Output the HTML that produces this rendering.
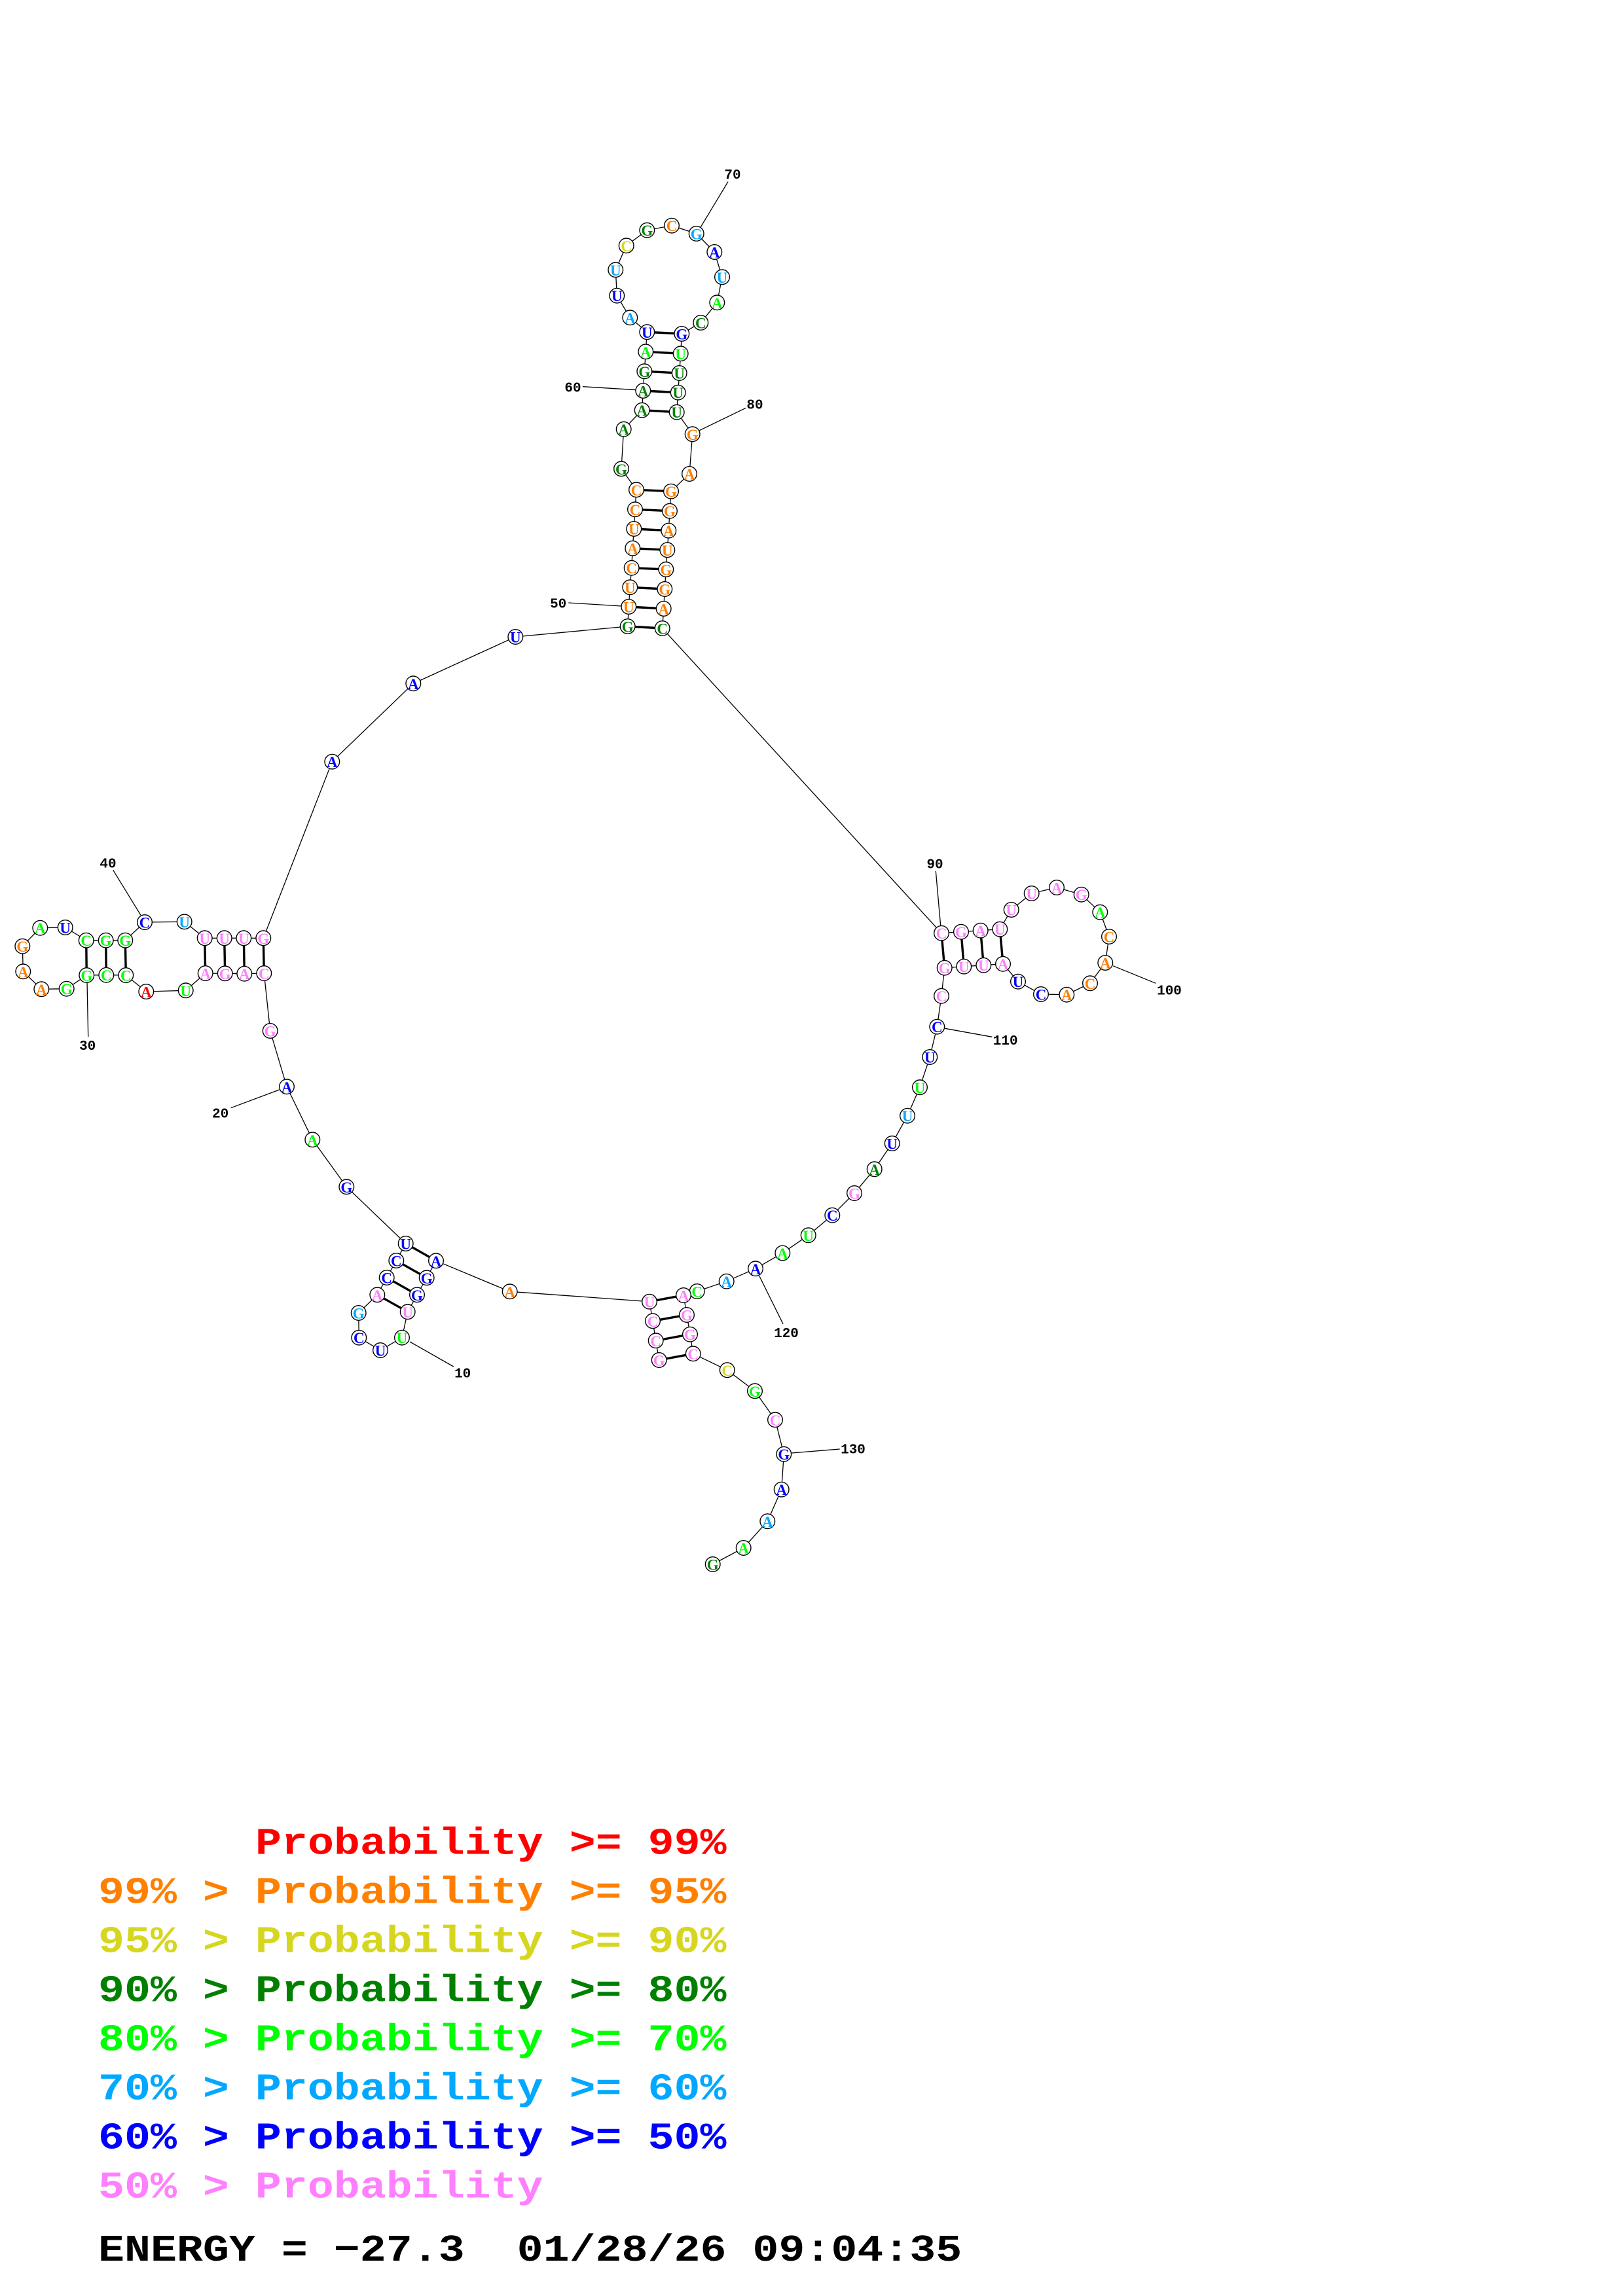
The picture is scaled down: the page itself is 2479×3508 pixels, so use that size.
<!DOCTYPE html>
<html lang="en">
<head>
<meta charset="utf-8">
<title>RNA secondary structure</title>
<style>
html,body{margin:0;padding:0;background:#fff}
svg{display:block}
circle{fill:#fff;stroke:#000;stroke-width:1.4}
.n text{font-family:"Liberation Serif",serif;font-weight:bold;font-size:23px;text-anchor:middle}
.r{fill:#ff0000}.o{fill:#ff8000}.y{fill:#d6d620}.d{fill:#008000}.g{fill:#00ff00}.s{fill:#00a8ff}.b{fill:#0000ff}.p{fill:#ff80ff}
.l text{font-family:"Liberation Mono",monospace;font-weight:bold;font-size:21px;text-anchor:middle;fill:#000}
.t text{font-family:"Liberation Mono",monospace;font-weight:bold;font-size:57.2px;white-space:pre}
</style>
</head>
<body>
<svg xmlns="http://www.w3.org/2000/svg" width="2479" height="3508" viewBox="0 0 2479 3508">
<rect width="2479" height="3508" fill="#fff"/>
<polyline fill="none" stroke="#000" stroke-width="1.3" points="1006.7,2078 1001.7,2048.3 997,2018.3 992,1988.7 778.7,1973.3 666,1926.3 651.7,1952.3 637,1978.3 622.7,2004.3 614,2043.7 581,2063 548.3,2043.7 547.7,2006 576.3,1978.3 590.7,1952 605.3,1926 619.7,1900 529.3,1813.3 477.3,1741.3 438,1660.3 412.7,1575 403.3,1487 373.3,1487.7 343.7,1487.3 313.7,1487 283.7,1513.3 223.3,1515 192.3,1490 162.3,1489.7 132.3,1490 101.7,1510.7 63.3,1511.3 35.3,1484.3 34.3,1445.7 61.3,1417.7 99.7,1417 131.7,1436.7 161.7,1436.7 191.3,1436.7 221,1409 281.7,1408.3 312.7,1433.3 342.7,1433.3 372.3,1433.3 402.3,1433.3 507.3,1163.7 631.3,1044.3 787.3,973 958.7,957 960.3,927 962.3,897.3 964.7,867.7 966.3,837.7 968.3,808 970,778.3 972,748.3 949,716.3 952.7,655.7 980.7,626.7 982.3,597 984.3,567.3 986.3,537.3 988.3,507.3 962.3,485.3 942.3,451.7 940.3,412.3 956.7,375.3 988.3,351.7 1026,344.7 1063.7,357 1091.3,385 1103,423.3 1095.3,462.3 1070.3,493 1041.3,510 1039.7,540.3 1037.7,570 1035.7,599.7 1033.7,629.7 1057.7,663.3 1053,724 1025,750.7 1023,780.7 1021.3,810.7 1019.3,840.3 1017.3,870 1015.3,900 1013.7,930 1011.7,960 1438,1425.7 1468,1423.7 1497.7,1421.7 1527.3,1419.7 1544.7,1390 1575.7,1365 1614,1356 1651.7,1366.7 1680.3,1393.7 1694,1431 1688.3,1471 1665,1502.3 1629.3,1519.7 1590,1519 1555,1499.7 1532,1472.7 1502.3,1474.7 1472.3,1476.7 1442.7,1478.7 1438,1521.7 1431.3,1568.7 1420.3,1615 1405,1661.3 1386,1704.7 1362.7,1747 1335.7,1786.3 1305,1823 1271.3,1856.7 1234.7,1887.3 1195.3,1914.5 1154,1938.3 1109.7,1957.7 1064.7,1973 1044,1979 1049,2009 1054,2038.7 1058.7,2068.3 1110.7,2093.3 1153,2125.3 1184,2169.3 1197.3,2221.7 1193.7,2275.7 1172.3,2324.3 1135.7,2365 1088.7,2390"/>
<g stroke="#000" stroke-width="3.4">
<line x1="1006.7" y1="2078" x2="1058.7" y2="2068.3"/><line x1="1001.7" y1="2048.3" x2="1054" y2="2038.7"/><line x1="997" y1="2018.3" x2="1049" y2="2009"/><line x1="992" y1="1988.7" x2="1044" y2="1979"/>
<line x1="666" y1="1926.3" x2="619.7" y2="1900"/><line x1="651.7" y1="1952.3" x2="605.3" y2="1926"/><line x1="637" y1="1978.3" x2="590.7" y2="1952"/><line x1="622.7" y1="2004.3" x2="576.3" y2="1978.3"/>
<line x1="403.3" y1="1487" x2="402.3" y2="1433.3"/><line x1="373.3" y1="1487.7" x2="372.3" y2="1433.3"/><line x1="343.7" y1="1487.3" x2="342.7" y2="1433.3"/><line x1="313.7" y1="1487" x2="312.7" y2="1433.3"/>
<line x1="192.3" y1="1490" x2="191.3" y2="1436.7"/><line x1="162.3" y1="1489.7" x2="161.7" y2="1436.7"/><line x1="132.3" y1="1490" x2="131.7" y2="1436.7"/>
<line x1="958.7" y1="957" x2="1011.7" y2="960"/><line x1="960.3" y1="927" x2="1013.7" y2="930"/><line x1="962.3" y1="897.3" x2="1015.3" y2="900"/><line x1="964.7" y1="867.7" x2="1017.3" y2="870"/><line x1="966.3" y1="837.7" x2="1019.3" y2="840.3"/><line x1="968.3" y1="808" x2="1021.3" y2="810.7"/><line x1="970" y1="778.3" x2="1023" y2="780.7"/><line x1="972" y1="748.3" x2="1025" y2="750.7"/>
<line x1="980.7" y1="626.7" x2="1033.7" y2="629.7"/><line x1="982.3" y1="597" x2="1035.7" y2="599.7"/><line x1="984.3" y1="567.3" x2="1037.7" y2="570"/><line x1="986.3" y1="537.3" x2="1039.7" y2="540.3"/><line x1="988.3" y1="507.3" x2="1041.3" y2="510"/>
<line x1="1438" y1="1425.7" x2="1442.7" y2="1478.7"/><line x1="1468" y1="1423.7" x2="1472.3" y2="1476.7"/><line x1="1497.7" y1="1421.7" x2="1502.3" y2="1474.7"/><line x1="1527.3" y1="1419.7" x2="1532" y2="1472.7"/>
</g>
<g stroke="#000" stroke-width="1.3">
<line x1="626" y1="2050" x2="692.7" y2="2088"/>
<line x1="352.7" y1="1692.7" x2="426.7" y2="1665"/>
<line x1="133" y1="1500" x2="134.7" y2="1584"/>
<line x1="172.7" y1="1329.3" x2="215" y2="1398.3"/>
<line x1="868.3" y1="921" x2="949" y2="926"/>
<line x1="890" y1="590.7" x2="971.7" y2="595.7"/>
<line x1="1112" y1="277.7" x2="1070" y2="347.3"/>
<line x1="1139.3" y1="623.3" x2="1068.3" y2="657.7"/>
<line x1="1429.3" y1="1330.7" x2="1436.7" y2="1414"/>
<line x1="1700" y1="1475.7" x2="1765.3" y2="1502.3"/>
<line x1="1443.3" y1="1571.3" x2="1515.3" y2="1584.3"/>
<line x1="1160" y1="1950" x2="1196" y2="2022.7"/>
<line x1="1209.3" y1="2220" x2="1282.7" y2="2214"/>
</g>
<g class="n">
<circle cx="1006.7" cy="2078" r="11.3"/><text class="p" x="1006.7" y="2086.5">G</text>
<circle cx="1001.7" cy="2048.3" r="11.3"/><text class="p" x="1001.7" y="2056.8">C</text>
<circle cx="997" cy="2018.3" r="11.3"/><text class="p" x="997" y="2026.8">C</text>
<circle cx="992" cy="1988.7" r="11.3"/><text class="p" x="992" y="1997.2">U</text>
<circle cx="778.7" cy="1973.3" r="11.3"/><text class="o" x="778.7" y="1981.8">A</text>
<circle cx="666" cy="1926.3" r="11.3"/><text class="b" x="666" y="1934.8">A</text>
<circle cx="651.7" cy="1952.3" r="11.3"/><text class="b" x="651.7" y="1960.8">G</text>
<circle cx="637" cy="1978.3" r="11.3"/><text class="b" x="637" y="1986.8">G</text>
<circle cx="622.7" cy="2004.3" r="11.3"/><text class="p" x="622.7" y="2012.8">U</text>
<circle cx="614" cy="2043.7" r="11.3"/><text class="g" x="614" y="2052.2">U</text>
<circle cx="581" cy="2063" r="11.3"/><text class="b" x="581" y="2071.5">U</text>
<circle cx="548.3" cy="2043.7" r="11.3"/><text class="b" x="548.3" y="2052.2">C</text>
<circle cx="547.7" cy="2006" r="11.3"/><text class="s" x="547.7" y="2014.5">G</text>
<circle cx="576.3" cy="1978.3" r="11.3"/><text class="p" x="576.3" y="1986.8">A</text>
<circle cx="590.7" cy="1952" r="11.3"/><text class="b" x="590.7" y="1960.5">C</text>
<circle cx="605.3" cy="1926" r="11.3"/><text class="b" x="605.3" y="1934.5">C</text>
<circle cx="619.7" cy="1900" r="11.3"/><text class="b" x="619.7" y="1908.5">U</text>
<circle cx="529.3" cy="1813.3" r="11.3"/><text class="b" x="529.3" y="1821.8">G</text>
<circle cx="477.3" cy="1741.3" r="11.3"/><text class="g" x="477.3" y="1749.8">A</text>
<circle cx="438" cy="1660.3" r="11.3"/><text class="b" x="438" y="1668.8">A</text>
<circle cx="412.7" cy="1575" r="11.3"/><text class="p" x="412.7" y="1583.5">G</text>
<circle cx="403.3" cy="1487" r="11.3"/><text class="p" x="403.3" y="1495.5">C</text>
<circle cx="373.3" cy="1487.7" r="11.3"/><text class="p" x="373.3" y="1496.2">A</text>
<circle cx="343.7" cy="1487.3" r="11.3"/><text class="p" x="343.7" y="1495.8">G</text>
<circle cx="313.7" cy="1487" r="11.3"/><text class="p" x="313.7" y="1495.5">A</text>
<circle cx="283.7" cy="1513.3" r="11.3"/><text class="g" x="283.7" y="1521.8">U</text>
<circle cx="223.3" cy="1515" r="11.3"/><text class="r" x="223.3" y="1523.5">A</text>
<circle cx="192.3" cy="1490" r="11.3"/><text class="g" x="192.3" y="1498.5">C</text>
<circle cx="162.3" cy="1489.7" r="11.3"/><text class="g" x="162.3" y="1498.2">C</text>
<circle cx="132.3" cy="1490" r="11.3"/><text class="g" x="132.3" y="1498.5">G</text>
<circle cx="101.7" cy="1510.7" r="11.3"/><text class="g" x="101.7" y="1519.2">G</text>
<circle cx="63.3" cy="1511.3" r="11.3"/><text class="o" x="63.3" y="1519.8">A</text>
<circle cx="35.3" cy="1484.3" r="11.3"/><text class="o" x="35.3" y="1492.8">A</text>
<circle cx="34.3" cy="1445.7" r="11.3"/><text class="o" x="34.3" y="1454.2">G</text>
<circle cx="61.3" cy="1417.7" r="11.3"/><text class="g" x="61.3" y="1426.2">A</text>
<circle cx="99.7" cy="1417" r="11.3"/><text class="b" x="99.7" y="1425.5">U</text>
<circle cx="131.7" cy="1436.7" r="11.3"/><text class="g" x="131.7" y="1445.2">C</text>
<circle cx="161.7" cy="1436.7" r="11.3"/><text class="g" x="161.7" y="1445.2">G</text>
<circle cx="191.3" cy="1436.7" r="11.3"/><text class="g" x="191.3" y="1445.2">G</text>
<circle cx="221" cy="1409" r="11.3"/><text class="b" x="221" y="1417.5">C</text>
<circle cx="281.7" cy="1408.3" r="11.3"/><text class="s" x="281.7" y="1416.8">U</text>
<circle cx="312.7" cy="1433.3" r="11.3"/><text class="p" x="312.7" y="1441.8">U</text>
<circle cx="342.7" cy="1433.3" r="11.3"/><text class="p" x="342.7" y="1441.8">U</text>
<circle cx="372.3" cy="1433.3" r="11.3"/><text class="p" x="372.3" y="1441.8">U</text>
<circle cx="402.3" cy="1433.3" r="11.3"/><text class="p" x="402.3" y="1441.8">G</text>
<circle cx="507.3" cy="1163.7" r="11.3"/><text class="b" x="507.3" y="1172.2">A</text>
<circle cx="631.3" cy="1044.3" r="11.3"/><text class="b" x="631.3" y="1052.8">A</text>
<circle cx="787.3" cy="973" r="11.3"/><text class="b" x="787.3" y="981.5">U</text>
<circle cx="958.7" cy="957" r="11.3"/><text class="d" x="958.7" y="965.5">G</text>
<circle cx="960.3" cy="927" r="11.3"/><text class="o" x="960.3" y="935.5">U</text>
<circle cx="962.3" cy="897.3" r="11.3"/><text class="o" x="962.3" y="905.8">U</text>
<circle cx="964.7" cy="867.7" r="11.3"/><text class="o" x="964.7" y="876.2">C</text>
<circle cx="966.3" cy="837.7" r="11.3"/><text class="o" x="966.3" y="846.2">A</text>
<circle cx="968.3" cy="808" r="11.3"/><text class="o" x="968.3" y="816.5">U</text>
<circle cx="970" cy="778.3" r="11.3"/><text class="o" x="970" y="786.8">C</text>
<circle cx="972" cy="748.3" r="11.3"/><text class="o" x="972" y="756.8">C</text>
<circle cx="949" cy="716.3" r="11.3"/><text class="d" x="949" y="724.8">G</text>
<circle cx="952.7" cy="655.7" r="11.3"/><text class="d" x="952.7" y="664.2">A</text>
<circle cx="980.7" cy="626.7" r="11.3"/><text class="d" x="980.7" y="635.2">A</text>
<circle cx="982.3" cy="597" r="11.3"/><text class="d" x="982.3" y="605.5">A</text>
<circle cx="984.3" cy="567.3" r="11.3"/><text class="d" x="984.3" y="575.8">G</text>
<circle cx="986.3" cy="537.3" r="11.3"/><text class="g" x="986.3" y="545.8">A</text>
<circle cx="988.3" cy="507.3" r="11.3"/><text class="b" x="988.3" y="515.8">U</text>
<circle cx="962.3" cy="485.3" r="11.3"/><text class="s" x="962.3" y="493.8">A</text>
<circle cx="942.3" cy="451.7" r="11.3"/><text class="b" x="942.3" y="460.2">U</text>
<circle cx="940.3" cy="412.3" r="11.3"/><text class="s" x="940.3" y="420.8">U</text>
<circle cx="956.7" cy="375.3" r="11.3"/><text class="y" x="956.7" y="383.8">C</text>
<circle cx="988.3" cy="351.7" r="11.3"/><text class="d" x="988.3" y="360.2">G</text>
<circle cx="1026" cy="344.7" r="11.3"/><text class="o" x="1026" y="353.2">C</text>
<circle cx="1063.7" cy="357" r="11.3"/><text class="s" x="1063.7" y="365.5">G</text>
<circle cx="1091.3" cy="385" r="11.3"/><text class="b" x="1091.3" y="393.5">A</text>
<circle cx="1103" cy="423.3" r="11.3"/><text class="s" x="1103" y="431.8">U</text>
<circle cx="1095.3" cy="462.3" r="11.3"/><text class="g" x="1095.3" y="470.8">A</text>
<circle cx="1070.3" cy="493" r="11.3"/><text class="d" x="1070.3" y="501.5">C</text>
<circle cx="1041.3" cy="510" r="11.3"/><text class="b" x="1041.3" y="518.5">G</text>
<circle cx="1039.7" cy="540.3" r="11.3"/><text class="g" x="1039.7" y="548.8">U</text>
<circle cx="1037.7" cy="570" r="11.3"/><text class="d" x="1037.7" y="578.5">U</text>
<circle cx="1035.7" cy="599.7" r="11.3"/><text class="d" x="1035.7" y="608.2">U</text>
<circle cx="1033.7" cy="629.7" r="11.3"/><text class="d" x="1033.7" y="638.2">U</text>
<circle cx="1057.7" cy="663.3" r="11.3"/><text class="o" x="1057.7" y="671.8">G</text>
<circle cx="1053" cy="724" r="11.3"/><text class="o" x="1053" y="732.5">A</text>
<circle cx="1025" cy="750.7" r="11.3"/><text class="o" x="1025" y="759.2">G</text>
<circle cx="1023" cy="780.7" r="11.3"/><text class="o" x="1023" y="789.2">G</text>
<circle cx="1021.3" cy="810.7" r="11.3"/><text class="o" x="1021.3" y="819.2">A</text>
<circle cx="1019.3" cy="840.3" r="11.3"/><text class="o" x="1019.3" y="848.8">U</text>
<circle cx="1017.3" cy="870" r="11.3"/><text class="o" x="1017.3" y="878.5">G</text>
<circle cx="1015.3" cy="900" r="11.3"/><text class="o" x="1015.3" y="908.5">G</text>
<circle cx="1013.7" cy="930" r="11.3"/><text class="o" x="1013.7" y="938.5">A</text>
<circle cx="1011.7" cy="960" r="11.3"/><text class="d" x="1011.7" y="968.5">C</text>
<circle cx="1438" cy="1425.7" r="11.3"/><text class="p" x="1438" y="1434.2">C</text>
<circle cx="1468" cy="1423.7" r="11.3"/><text class="p" x="1468" y="1432.2">G</text>
<circle cx="1497.7" cy="1421.7" r="11.3"/><text class="p" x="1497.7" y="1430.2">A</text>
<circle cx="1527.3" cy="1419.7" r="11.3"/><text class="p" x="1527.3" y="1428.2">U</text>
<circle cx="1544.7" cy="1390" r="11.3"/><text class="p" x="1544.7" y="1398.5">U</text>
<circle cx="1575.7" cy="1365" r="11.3"/><text class="p" x="1575.7" y="1373.5">U</text>
<circle cx="1614" cy="1356" r="11.3"/><text class="p" x="1614" y="1364.5">A</text>
<circle cx="1651.7" cy="1366.7" r="11.3"/><text class="p" x="1651.7" y="1375.2">G</text>
<circle cx="1680.3" cy="1393.7" r="11.3"/><text class="g" x="1680.3" y="1402.2">A</text>
<circle cx="1694" cy="1431" r="11.3"/><text class="o" x="1694" y="1439.5">C</text>
<circle cx="1688.3" cy="1471" r="11.3"/><text class="o" x="1688.3" y="1479.5">A</text>
<circle cx="1665" cy="1502.3" r="11.3"/><text class="o" x="1665" y="1510.8">C</text>
<circle cx="1629.3" cy="1519.7" r="11.3"/><text class="o" x="1629.3" y="1528.2">A</text>
<circle cx="1590" cy="1519" r="11.3"/><text class="b" x="1590" y="1527.5">C</text>
<circle cx="1555" cy="1499.7" r="11.3"/><text class="b" x="1555" y="1508.2">U</text>
<circle cx="1532" cy="1472.7" r="11.3"/><text class="p" x="1532" y="1481.2">A</text>
<circle cx="1502.3" cy="1474.7" r="11.3"/><text class="p" x="1502.3" y="1483.2">U</text>
<circle cx="1472.3" cy="1476.7" r="11.3"/><text class="p" x="1472.3" y="1485.2">U</text>
<circle cx="1442.7" cy="1478.7" r="11.3"/><text class="p" x="1442.7" y="1487.2">G</text>
<circle cx="1438" cy="1521.7" r="11.3"/><text class="p" x="1438" y="1530.2">C</text>
<circle cx="1431.3" cy="1568.7" r="11.3"/><text class="b" x="1431.3" y="1577.2">C</text>
<circle cx="1420.3" cy="1615" r="11.3"/><text class="b" x="1420.3" y="1623.5">U</text>
<circle cx="1405" cy="1661.3" r="11.3"/><text class="g" x="1405" y="1669.8">U</text>
<circle cx="1386" cy="1704.7" r="11.3"/><text class="s" x="1386" y="1713.2">U</text>
<circle cx="1362.7" cy="1747" r="11.3"/><text class="b" x="1362.7" y="1755.5">U</text>
<circle cx="1335.7" cy="1786.3" r="11.3"/><text class="d" x="1335.7" y="1794.8">A</text>
<circle cx="1305" cy="1823" r="11.3"/><text class="p" x="1305" y="1831.5">G</text>
<circle cx="1271.3" cy="1856.7" r="11.3"/><text class="b" x="1271.3" y="1865.2">C</text>
<circle cx="1234.7" cy="1887.3" r="11.3"/><text class="g" x="1234.7" y="1895.8">U</text>
<circle cx="1195.3" cy="1914.5" r="11.3"/><text class="g" x="1195.3" y="1923">A</text>
<circle cx="1154" cy="1938.3" r="11.3"/><text class="b" x="1154" y="1946.8">A</text>
<circle cx="1109.7" cy="1957.7" r="11.3"/><text class="s" x="1109.7" y="1966.2">A</text>
<circle cx="1064.7" cy="1973" r="11.3"/><text class="g" x="1064.7" y="1981.5">C</text>
<circle cx="1044" cy="1979" r="11.3"/><text class="p" x="1044" y="1987.5">A</text>
<circle cx="1049" cy="2009" r="11.3"/><text class="p" x="1049" y="2017.5">G</text>
<circle cx="1054" cy="2038.7" r="11.3"/><text class="p" x="1054" y="2047.2">G</text>
<circle cx="1058.7" cy="2068.3" r="11.3"/><text class="p" x="1058.7" y="2076.8">C</text>
<circle cx="1110.7" cy="2093.3" r="11.3"/><text class="y" x="1110.7" y="2101.8">C</text>
<circle cx="1153" cy="2125.3" r="11.3"/><text class="g" x="1153" y="2133.8">G</text>
<circle cx="1184" cy="2169.3" r="11.3"/><text class="p" x="1184" y="2177.8">C</text>
<circle cx="1197.3" cy="2221.7" r="11.3"/><text class="b" x="1197.3" y="2230.2">G</text>
<circle cx="1193.7" cy="2275.7" r="11.3"/><text class="b" x="1193.7" y="2284.2">A</text>
<circle cx="1172.3" cy="2324.3" r="11.3"/><text class="s" x="1172.3" y="2332.8">A</text>
<circle cx="1135.7" cy="2365" r="11.3"/><text class="g" x="1135.7" y="2373.5">A</text>
<circle cx="1088.7" cy="2390" r="11.3"/><text class="d" x="1088.7" y="2398.5">G</text>
</g>
<g class="l">
<text x="706.7" y="2104.5">10</text>
<text x="336.7" y="1707.5">20</text>
<text x="133.7" y="1604">30</text>
<text x="165" y="1325.5">40</text>
<text x="852.7" y="928.5">50</text>
<text x="875" y="598.5">60</text>
<text x="1119" y="273">70</text>
<text x="1153" y="624.5">80</text>
<text x="1428" y="1326.5">90</text>
<text x="1786" y="1519.5">100</text>
<text x="1535.7" y="1596">110</text>
<text x="1201" y="2043">120</text>
<text x="1303" y="2220.5">130</text>
</g>
<g class="t">
<text class="r" transform="translate(390,2832.7) scale(1.165,1)">Probability &gt;= 99%</text>
<text class="o" transform="translate(150,2907.7) scale(1.165,1)">99% &gt; Probability &gt;= 95%</text>
<text class="y" transform="translate(150,2982.7) scale(1.165,1)">95% &gt; Probability &gt;= 90%</text>
<text class="d" transform="translate(150,3057.7) scale(1.165,1)">90% &gt; Probability &gt;= 80%</text>
<text class="g" transform="translate(150,3132.7) scale(1.165,1)">80% &gt; Probability &gt;= 70%</text>
<text class="s" transform="translate(150,3207.7) scale(1.165,1)">70% &gt; Probability &gt;= 60%</text>
<text class="b" transform="translate(150,3282.7) scale(1.165,1)">60% &gt; Probability &gt;= 50%</text>
<text class="p" transform="translate(150,3357.7) scale(1.165,1)">50% &gt; Probability</text>
<text fill="#000" transform="translate(150,3454) scale(1.165,1)">ENERGY = −27.3  01/28/26 09:04:35</text>
</g>
</svg>
</body>
</html>
